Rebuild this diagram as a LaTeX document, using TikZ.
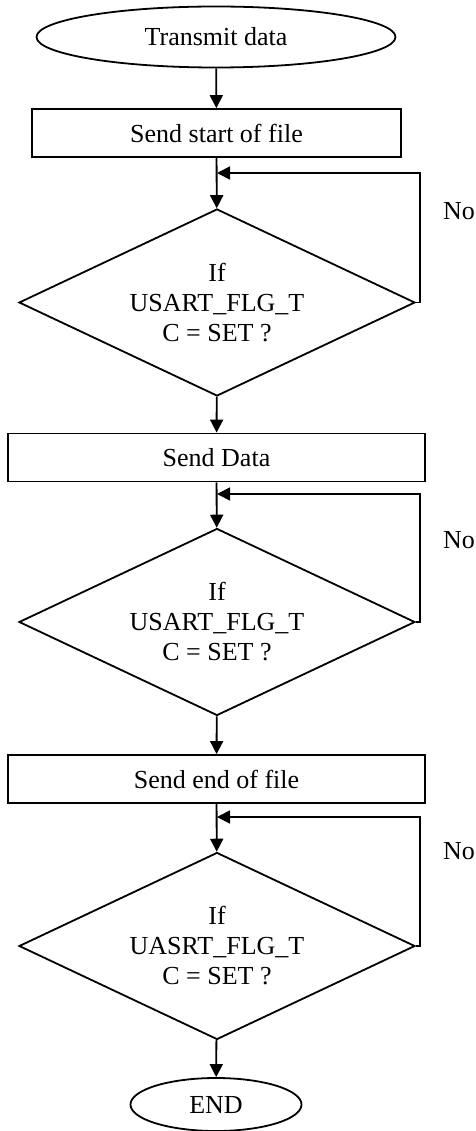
\documentclass[tikz,border=0pt]{standalone}
\usepackage{fontspec}
\setmainfont{Liberation Serif}
\usepackage{tikz}
\usetikzlibrary{arrows.meta,shapes.geometric}
\newcommand{\fcfont}{\fontsize{26}{30}\selectfont}
\tikzset{
  fline/.style ={line width=1.8pt, black},
  fdir/.style  ={fline, -{Triangle[length=13pt, width=13pt]}},
  fterm/.style ={ellipse, draw, line width=1.8pt, inner sep=0pt, font=\fcfont},
  fproc/.style ={rectangle, draw, line width=1.8pt, inner sep=0pt,
                 minimum width=417pt, minimum height=48pt, font=\fcfont},
  fdec/.style  ={diamond, draw, line width=1.8pt, inner sep=0pt, aspect=2.1,
                 minimum width=396pt, minimum height=187pt, align=center, font=\fcfont},
  fno/.style   ={anchor=west, inner sep=0pt, font=\fcfont},
}
\begin{document}
\begin{tikzpicture}[x=1pt, y=-1pt]
  \useasboundingbox (0,0) rectangle (475,1131);
  % terminals, steps and tests
  \node[fterm, minimum width=359pt, minimum height=61pt] (start) at (216,37) {Transmit data};
  \node[fproc, minimum width=369pt] (b1) at (216.5,133) {Send start of file};
  \node[fdec] (d1) at (217,302.5) {If\\USART\_FLG\_T\\C = SET ?};
  \node[fproc] (b2) at (216.5,457.5) {Send Data};
  \node[fdec] (d2) at (217,622) {If\\USART\_FLG\_T\\C = SET ?};
  \node[fproc] (b3) at (216.5,779) {Send end of file};
  \node[fdec] (d3) at (217,946) {If\\UASRT\_FLG\_T\\C = SET ?};
  \node[fterm, minimum width=171pt, minimum height=53pt] (stop) at (216,1104.5) {END};
  % loop-back joins
  \coordinate (j1) at (217,173);
  \coordinate (j2) at (217,494);
  \coordinate (j3) at (217,817);
  \node[fno] (no1) at (443,211) {No};
  \node[fno] (no2) at (443,540) {No};
  \node[fno] (no3) at (443,851) {No};
  % main flow
  \draw[fdir] (start) -- (b1);
  \draw[fdir] (b1) -- (d1);
  \draw[fdir] (d1) -- (b2);
  \draw[fdir] (b2) -- (d2);
  \draw[fdir] (d2) -- (b3);
  \draw[fdir] (b3) -- (d3);
  \draw[fdir] (d3) -- (stop);
  % no branches
  \draw[fdir] (d1.east) -- ++(4,0) |- (j1);
  \draw[fdir] (d2.east) -- ++(4,0) |- (j2);
  \draw[fdir] (d3.east) -- ++(4,0) |- (j3);
\end{tikzpicture}
\end{document}
